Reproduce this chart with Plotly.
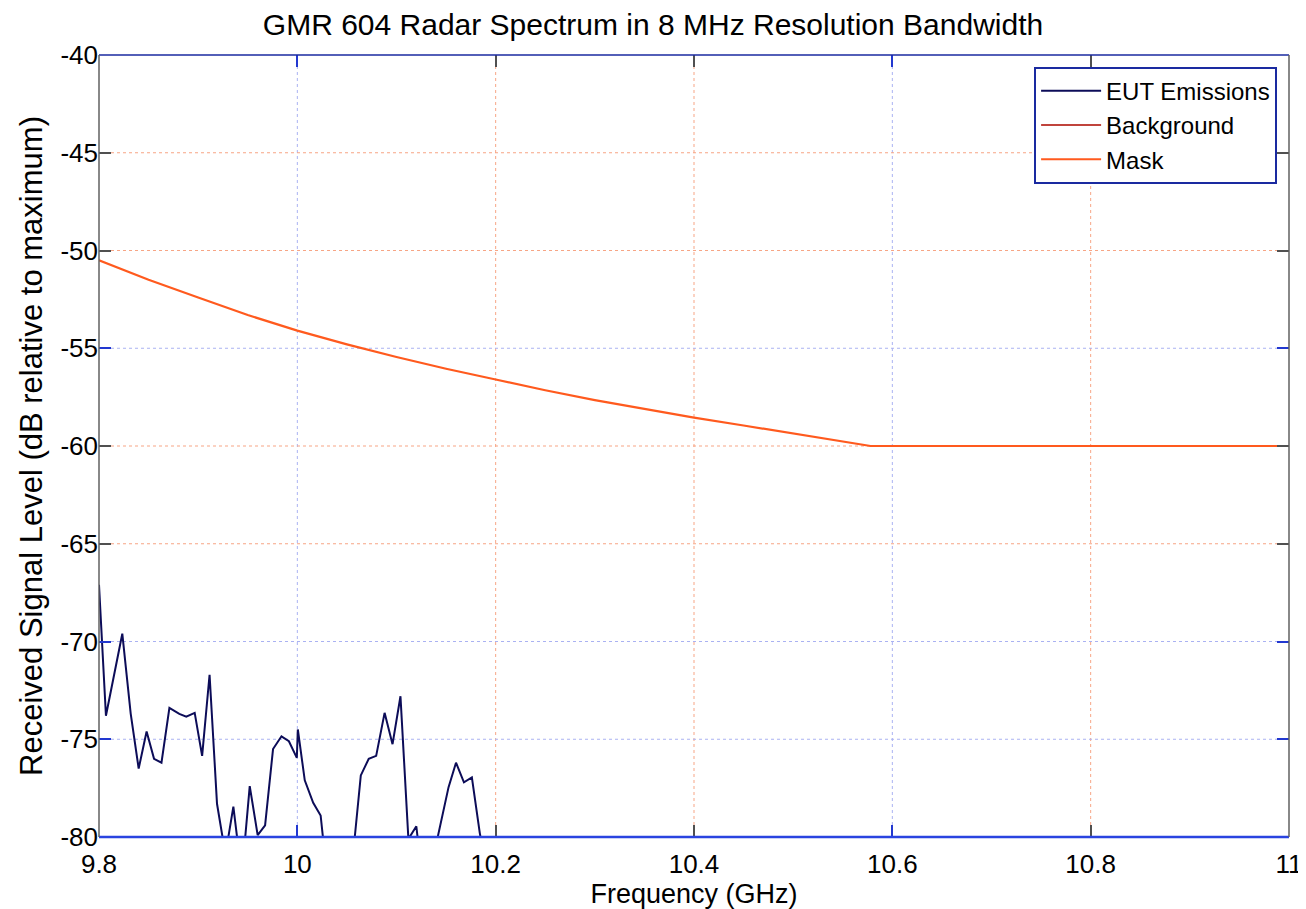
import plotly.graph_objects as go

# ---------------- data ----------------
eut_freq = [9.800, 9.807, 9.8235, 9.832, 9.840, 9.848, 9.8555, 9.863, 9.871, 9.881,
            9.888, 9.8965, 9.904, 9.9115, 9.919, 9.9275, 9.9355, 9.944, 9.952, 9.960,
            9.9675, 9.9755, 9.984, 9.9915, 9.9995, 10.0005, 10.0075, 10.016, 10.0235, 10.032,
            10.040, 10.048, 10.056, 10.064, 10.072, 10.0795, 10.088, 10.096, 10.104, 10.112,
            10.120, 10.128, 10.136, 10.1525, 10.160, 10.168, 10.176, 10.184, 10.192, 10.25,
            10.35, 10.50, 10.70, 10.90, 11.00]
eut_level = [-67.1, -73.8, -69.6, -73.7, -76.5, -74.6, -76.0, -76.2, -73.4, -73.7,
             -73.85, -73.65, -75.85, -71.7, -78.3, -80.9, -78.45, -82.0, -77.4, -79.9,
             -79.4, -75.5, -74.85, -75.1, -75.95, -74.5, -77.1, -78.25, -78.9, -83.0,
             -79.95, -83.0, -81.0, -76.85, -76.0, -75.85, -73.65, -75.25, -72.8, -80.1,
             -79.45, -83.0, -81.3, -77.45, -76.2, -77.2, -76.95, -79.8, -82.0, -84.0,
             -85.0, -85.0, -84.0, -85.0, -85.0]

background_freq = [9.8, 10.0, 10.2, 10.4, 10.6, 10.8, 11.0]
background_level = [-84.0, -85.0, -85.0, -86.0, -85.0, -86.0, -86.0]

mask_freq = [9.80, 9.85, 9.90, 9.95, 10.00, 10.05, 10.10, 10.15, 10.20, 10.25,
             10.30, 10.35, 10.40, 10.45, 10.50, 10.578, 11.00]
mask_level = [-50.5, -51.5, -52.4, -53.3, -54.1, -54.8, -55.45, -56.05, -56.6, -57.15,
              -57.65, -58.1, -58.55, -58.95, -59.35, -60.0, -60.0]

x_ticks = [9.8, 10.0, 10.2, 10.4, 10.6, 10.8, 11.0]
x_ticktext = ["9.8", "10", "10.2", "10.4", "10.6", "10.8", "11"]
y_ticks = [-80, -75, -70, -65, -60, -55, -50, -45, -40]
y_ticktext = ["-80", "-75", "-70", "-65", "-60", "-55", "-50", "-45", "-40"]

blue_grid_x = [10.0, 10.6]
orange_grid_x = [10.2, 10.4, 10.8]
blue_grid_y = [-55, -70, -75]
orange_grid_y = [-45, -50, -60, -65]

x_range = [9.8, 11.0]
y_range = [-80, -40]

# ---------------- styles ----------------
FONT = "Liberation Sans, Arial, sans-serif"
C_EUT = "#0c0c58"
C_BG = "#c0443c"
C_MASK = "#ff5a1e"
C_GRID_BLUE = "#aab2f2"
C_GRID_ORANGE = "#f7a585"
C_TICK_BLUE = "#2238d0"
C_TICK_GRAY = "#505050"

W, H = 1298, 901  # page body has an 8 px margin

fig = go.Figure()

fig.add_trace(go.Scatter(x=eut_freq, y=eut_level, mode="lines", name="EUT Emissions",
                         line=dict(color=C_EUT, width=2)))
fig.add_trace(go.Scatter(x=background_freq, y=background_level, mode="lines", name="Background",
                         line=dict(color=C_BG, width=2)))
fig.add_trace(go.Scatter(x=mask_freq, y=mask_level, mode="lines", name="Mask",
                         line=dict(color=C_MASK, width=2.2)))
# empty trace that anchors the overlay axes used for the coloured tick marks
fig.add_trace(go.Scatter(x=[], y=[], xaxis="x2", yaxis="y2", showlegend=False,
                         hoverinfo="skip"))

shapes = []
for xv in blue_grid_x:
    shapes.append(dict(type="line", xref="x", yref="paper", x0=xv, x1=xv, y0=0, y1=1,
                       line=dict(color=C_GRID_BLUE, width=1, dash="dot"), layer="below"))
for xv in orange_grid_x:
    shapes.append(dict(type="line", xref="x", yref="paper", x0=xv, x1=xv, y0=0, y1=1,
                       line=dict(color=C_GRID_ORANGE, width=1, dash="dot"), layer="below"))
for yv in blue_grid_y:
    shapes.append(dict(type="line", xref="paper", yref="y", x0=0, x1=1, y0=yv, y1=yv,
                       line=dict(color=C_GRID_BLUE, width=1, dash="dot"), layer="below"))
for yv in orange_grid_y:
    shapes.append(dict(type="line", xref="paper", yref="y", x0=0, x1=1, y0=yv, y1=yv,
                       line=dict(color=C_GRID_ORANGE, width=1, dash="dot"), layer="below"))
# frame
shapes += [
    dict(type="line", xref="paper", yref="paper", x0=0, x1=1, y0=0, y1=0,
         line=dict(color="#2a44e0", width=2.5)),
    dict(type="line", xref="paper", yref="paper", x0=0, x1=1, y0=1, y1=1,
         line=dict(color="#1a2aa0", width=1.5)),
    dict(type="line", xref="paper", yref="paper", x0=0, x1=0, y0=0, y1=1,
         line=dict(color="#606060", width=1.5)),
    dict(type="line", xref="paper", yref="paper", x0=1, x1=1, y0=0, y1=1,
         line=dict(color="#606060", width=1.5)),
]

fig.update_layout(
    width=W, height=H,
    margin=dict(l=91, r=17, t=47, b=72, autoexpand=False),
    paper_bgcolor="white", plot_bgcolor="white",
    font=dict(family=FONT, color="black", size=25),
    title=dict(text="GMR 604 Radar Spectrum in 8 MHz Resolution Bandwidth",
               x=(653 - 8) / W, xanchor="center", xref="container", y=1 - 16 / H,
               yanchor="middle", yref="container",
               font=dict(family=FONT, size=30, color="black")),
    xaxis=dict(range=x_range, tickvals=x_ticks, ticktext=x_ticktext, showgrid=False,
               zeroline=False, showline=False, ticks="inside", ticklen=12, tickwidth=1.5,
               tickcolor=C_TICK_GRAY, mirror="ticks", tickfont=dict(size=26),
               ticklabelstandoff=9,
               title=dict(text="Frequency (GHz)", font=dict(size=27), standoff=0)),
    yaxis=dict(range=y_range, tickvals=y_ticks, ticktext=y_ticktext, showgrid=False,
               zeroline=False, showline=False, ticks="inside", ticklen=12, tickwidth=1.5,
               tickcolor=C_TICK_GRAY, mirror="ticks", tickfont=dict(size=26),
               title=dict(text="Received Signal Level (dB relative to maximum)",
                          font=dict(size=31), standoff=8)),
    xaxis2=dict(range=x_range, overlaying="x", tickvals=blue_grid_x, showticklabels=False,
                showgrid=False, zeroline=False, ticks="inside", ticklen=12, tickwidth=2,
                tickcolor=C_TICK_BLUE, mirror="ticks", side="bottom"),
    yaxis2=dict(range=y_range, overlaying="y", tickvals=blue_grid_y, showticklabels=False,
                showgrid=False, zeroline=False, ticks="inside", ticklen=12, tickwidth=2,
                tickcolor=C_TICK_BLUE, mirror="ticks", side="left"),
    legend=dict(x=0.99, y=0.985, xanchor="right", yanchor="top", bgcolor="white",
                bordercolor="#1a2aa0", borderwidth=2, font=dict(size=24, color="black"),
                tracegroupgap=0, itemwidth=60),
    shapes=shapes,
    showlegend=True,
)

fig.write_html("out.html")
